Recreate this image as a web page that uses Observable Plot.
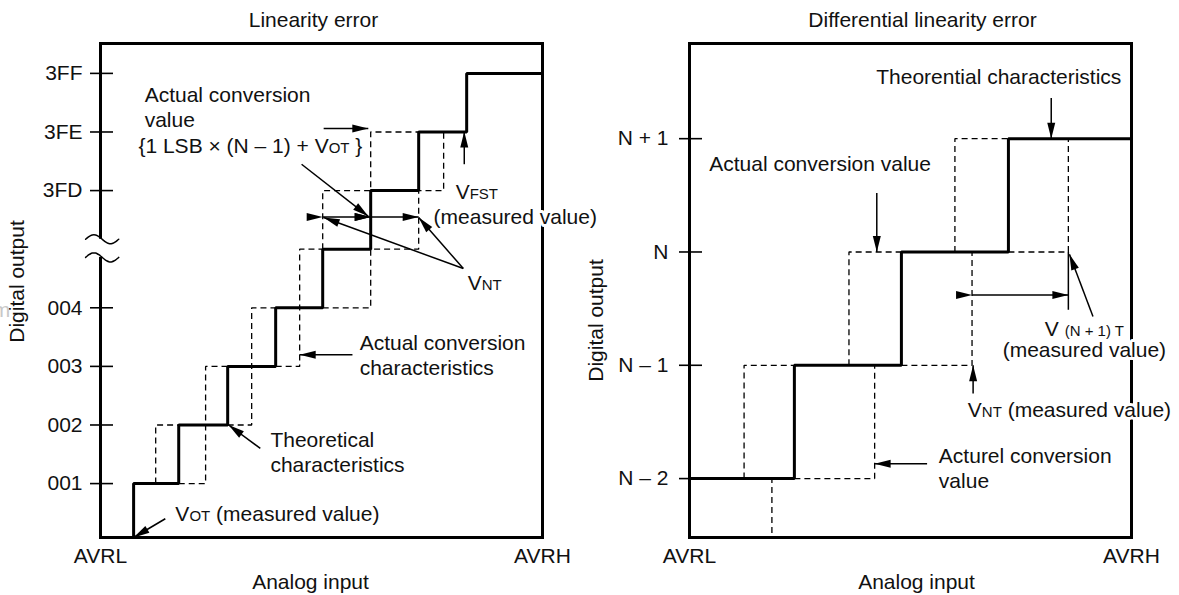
<!DOCTYPE html>
<html><head><meta charset="utf-8">
<script src="https://cdn.jsdelivr.net/npm/d3@7"></script>
<script src="https://cdn.jsdelivr.net/npm/@observablehq/plot@0.6"></script>
<style>
html,body{margin:0;padding:0;background:#fff;overflow:hidden;}
#wrap{display:flex;width:1179px;height:595px;background:#fff;}
#wrap svg{overflow:visible;background:transparent !important;}
</style></head><body><div id="wrap"></div>
<script>
// ================= LEFT: Linearity error =================
const L_title = "Linearity error";
const L_xEnds = [0, 9.21];                 // analog input, in LSB units
const L_xLabels = ["AVRL", "AVRH"];
const L_yDomain = [0.08, 8.51];            // output position (break between 004 and 3FD)
const L_tickLevels = [1, 2, 3, 4, 6, 7, 8];
const L_tickLabels = ["001", "002", "003", "004", "3FD", "3FE", "3FF"];
const L_theoTransitions = [0.69, 1.63, 2.65, 3.65, 4.63, 5.63, 6.63, 7.63];
const L_actualPaths = [
  [[1.15, 1], [1.15, 2], [1.63, 2]],
  [[1.63, 1], [2.19, 1], [2.19, 3], [2.65, 3]],
  [[2.65, 2], [3.15, 2], [3.15, 4], [3.65, 4]],
  [[3.65, 3], [4.15, 3], [4.15, 5], [4.63, 5]],
  [[4.63, 4], [5.63, 4], [5.63, 5], [6.63, 5], [6.63, 6], [7.15, 6], [7.15, 7]],
  [[4.63, 5], [4.63, 6], [5.63, 6], [5.63, 7], [6.63, 7]]
];
const L_breakLevels = [5.17, 4.86];
const L_arrows = [            // x1, y1, x2, y2
  [4.65, 7.06, 5.58, 7.06],
  [4.19, 6.45, 5.58, 5.56],
  [7.56, 4.67, 4.65, 5.54],
  [7.56, 4.67, 6.63, 5.54],
  [7.58, 6.45, 7.58, 7.01],
  [5.25, 3.20, 4.15, 3.20],
  [3.33, 1.60, 2.67, 2.00],
  [1.35, 0.40, 0.69, 0.08]
];
const L_doubleArrows = [
  [4.63, 5.55, 5.63, 5.55],
  [5.63, 5.55, 6.63, 5.55]
];
const L_labelsStart = [       // text, x, y
  ["Actual conversion", 0.92, 7.62],
  ["value", 0.92, 7.20],
  ["{1 LSB × (N – 1) + V_{OT} }", 0.79, 6.75],
  ["V_{FST}", 7.40, 5.97],
  ["(measured value)", 6.94, 5.54],
  ["V_{NT}", 7.65, 4.42],
  ["Actual conversion", 5.40, 3.39],
  ["characteristics", 5.40, 2.96],
  ["Theoretical", 3.54, 1.74],
  ["characteristics", 3.54, 1.31],
  ["V_{OT} (measured value)", 1.56, 0.47]
];
const L_labelsMid = [];

// ================= RIGHT: Differential linearity error =================
const R_title = "Differential linearity error";
const R_xEnds = [0, 4.13];
const R_xLabels = ["AVRL", "AVRH"];
const R_yDomain = [-0.52, 3.84];
const R_tickLevels = [0, 1, 2, 3];
const R_tickLabels = ["N – 2", "N – 1", "N", "N + 1"];
const R_theoTransitions = [0.98, 1.98, 2.98];
const R_actualPaths = [
  [[0.51, 0], [0.51, 1], [0.98, 1]],
  [[0.77, -0.48], [0.77, 0]],
  [[0.98, 0], [1.73, 0], [1.73, 1]],
  [[1.49, 1], [1.49, 2], [1.98, 2]],
  [[1.98, 1], [2.64, 1], [2.64, 2]],
  [[2.48, 2], [2.48, 3], [2.98, 3]],
  [[2.98, 2], [3.54, 2], [3.54, 3]]
];
const R_solidMarks = [[3.54, 2, 3.54, 1.49]];
const R_arrows = [
  [3.38, 3.36, 3.38, 3.00],
  [1.75, 2.52, 1.75, 2.00],
  [3.77, 1.43, 3.55, 1.98],
  [2.65, 0.75, 2.65, 1.00],
  [2.22, 0.13, 1.73, 0.13]
];
const R_doubleArrows = [[2.64, 1.62, 3.54, 1.62]];
const R_labelsMid = [
  ["Theorential characteristics", 2.89, 3.54],
  ["Actual conversion value", 1.22, 2.77],
  ["V _{(N + 1) T}", 3.69, 1.32],
  ["(measured value)", 3.69, 1.13],
  ["V_{NT} (measured value)", 3.55, 0.60]
];
const R_labelsStart = [
  ["Acturel conversion", 2.33, 0.20],
  ["value", 2.33, -0.02]
];

// ================= drawing =================
const FONT = "'Liberation Sans', Arial, Helvetica, sans-serif";
const INK = "#111";

function flatPaths(paths) {
  return paths.flatMap((p, k) => p.map(([x, y]) => ({x, y, k})));
}
function stepPoints(start, transitions, xEnd) {
  const pts = [start];
  transitions.forEach((t, i) => pts.push({x: t, y: i + 1}));
  pts.push({x: xEnd, y: transitions.length});
  return pts;
}
function textMarks(rows, anchor) {
  return Plot.text(rows, {
    x: d => d[1], y: d => d[2], text: d => d[0],
    textAnchor: anchor, lineAnchor: "middle", fontSize: 21, fill: INK,
    stroke: "white", strokeWidth: 6, strokeLinejoin: "round", paintOrder: "stroke"
  });
}

function panel(cfg) {
  const marks = [
    Plot.frame({stroke: "#000", strokeWidth: 3})
  ];
  if (cfg.breakLevels) {
    marks.push(Plot.ruleX([cfg.xEnds[0]], {y1: cfg.breakLevels[1], y2: cfg.breakLevels[0], stroke: "white", strokeWidth: 7}));
    // decorative break glyphs (two small waves across the axis)
    const wave = [];
    cfg.breakLevels.forEach((c, k) => {
      for (let i = 0; i <= 20; i++) {
        const t = i / 20;
        wave.push({x: -0.31 + t * 0.69, y: c + 0.077 * Math.sin(2 * Math.PI * t), k});
      }
    });
    marks.push(Plot.line(wave, {x: "x", y: "y", z: "k", stroke: "#000", strokeWidth: 1.5, curve: "natural"}));
  }
  marks.push(
    Plot.ruleY(cfg.tickLevels, {y: d => d, x1: cfg.xEnds[0], x2: cfg.xEnds[0], insetLeft: -10, insetRight: -13, stroke: "#000", strokeWidth: 1.6}),
    Plot.line(flatPaths(cfg.actualPaths), {x: "x", y: "y", z: "k", stroke: "#000", strokeWidth: 1.3, strokeDasharray: "6,4", strokeLinejoin: "miter", strokeLinecap: "butt"}),
    Plot.line(stepPoints(cfg.stepStart, cfg.theoTransitions, cfg.xEnds[1]), {x: "x", y: "y", curve: "step-after", stroke: "#000", strokeWidth: 3, strokeLinejoin: "miter", strokeLinecap: "butt"})
  );
  if (cfg.solidMarks) {
    marks.push(Plot.link(cfg.solidMarks, {x1: d => d[0], y1: d => d[1], x2: d => d[2], y2: d => d[3], stroke: "#000", strokeWidth: 1.5}));
  }
  marks.push(
    Plot.link(cfg.arrows, {x1: d => d[0], y1: d => d[1], x2: d => d[2], y2: d => d[3], stroke: "#000", strokeWidth: 1.5, markerEnd: "arrow"}),
    Plot.link(cfg.doubleArrows, {x1: d => d[0], y1: d => d[1], x2: d => d[2], y2: d => d[3], stroke: "#000", strokeWidth: 1.5, markerStart: "arrow", markerEnd: "arrow"}),
    textMarks(cfg.labelsStart, "start"),
    textMarks(cfg.labelsMid, "middle"),
    Plot.text([cfg.title], {text: d => d, frameAnchor: "top", textAnchor: "middle", lineAnchor: "middle", dy: -23, dx: cfg.titleDx, fontSize: 21, fill: INK}),
    Plot.text(["Analog input"], {text: d => d, frameAnchor: "bottom", textAnchor: "middle", lineAnchor: "middle", dy: 45, dx: cfg.xLabelDx, fontSize: 21, fill: INK}),
    Plot.text(["Digital output"], {text: d => d, frameAnchor: "left", textAnchor: "middle", lineAnchor: "middle", rotate: -90, dx: cfg.yLabelDx, dy: cfg.yLabelDy, fontSize: 21, fill: INK})
  );
  if (cfg.ghost) {
    marks.push(Plot.text(["m"], {text: d => d, frameAnchor: "left", textAnchor: "middle", lineAnchor: "middle", dx: -99, dy: 20, fontSize: 21, fill: "#c8c8c8"}));
  }
  const svg = Plot.plot({
    width: 589, height: 595,
    marginTop: 43, marginBottom: 58, marginLeft: 100, marginRight: 47,
    style: {fontFamily: FONT, fontSize: "21px", color: INK, background: "transparent", overflow: "visible"},
    x: {domain: cfg.xEnds, ticks: cfg.xEnds, tickFormat: d => cfg.xLabels[cfg.xEnds.indexOf(d)], tickSize: 0, tickPadding: 11, label: null},
    y: {domain: cfg.yDomain, ticks: cfg.tickLevels, tickFormat: d => cfg.tickLabels[cfg.tickLevels.indexOf(d)], tickSize: 0, tickPadding: cfg.tickPadding, label: null},
    marks
  });
  // filled arrowheads
  d3.select(svg).selectAll("marker")
    .attr("viewBox", "-17 -5 18 10").attr("markerWidth", 18).attr("markerHeight", 10)
    .attr("markerUnits", "userSpaceOnUse").attr("fill", "#000").attr("stroke", "none")
    .selectAll("path").attr("d", "M-16,-4L0,0L-16,4Z");
  // small-capital subscripts such as V_{OT}
  d3.select(svg).selectAll("text").each(function () {
    const t = this.textContent;
    if (!t.includes("_{")) return;
    const parts = t.split(/_\{([^}]*)\}/);
    const sel = d3.select(this);
    sel.text(null);
    parts.forEach((p, i) => {
      if (!p) return;
      const ts = sel.append("tspan").text(p);
      if (i % 2) ts.attr("font-size", 15);
    });
  });
  return svg;
}

const wrap = document.getElementById("wrap");
wrap.appendChild(panel({
  title: L_title, titleDx: -8, xLabelDx: -11, yLabelDx: -83, yLabelDy: -9, tickPadding: 18,
  xEnds: L_xEnds, xLabels: L_xLabels, yDomain: L_yDomain,
  tickLevels: L_tickLevels, tickLabels: L_tickLabels,
  theoTransitions: L_theoTransitions, stepStart: {x: L_theoTransitions[0], y: L_yDomain[0]},
  actualPaths: L_actualPaths, breakLevels: L_breakLevels,
  arrows: L_arrows, doubleArrows: L_doubleArrows,
  labelsStart: L_labelsStart, labelsMid: L_labelsMid, ghost: true
}));
wrap.appendChild(panel({
  title: R_title, titleDx: 12, xLabelDx: 6, yLabelDx: -93, yLabelDy: 30, tickPadding: 21,
  xEnds: R_xEnds, xLabels: R_xLabels, yDomain: R_yDomain,
  tickLevels: R_tickLevels, tickLabels: R_tickLabels,
  theoTransitions: R_theoTransitions, stepStart: {x: R_xEnds[0], y: 0},
  actualPaths: R_actualPaths, solidMarks: R_solidMarks,
  arrows: R_arrows, doubleArrows: R_doubleArrows,
  labelsStart: R_labelsStart, labelsMid: R_labelsMid
}));
</script>
</body></html>
